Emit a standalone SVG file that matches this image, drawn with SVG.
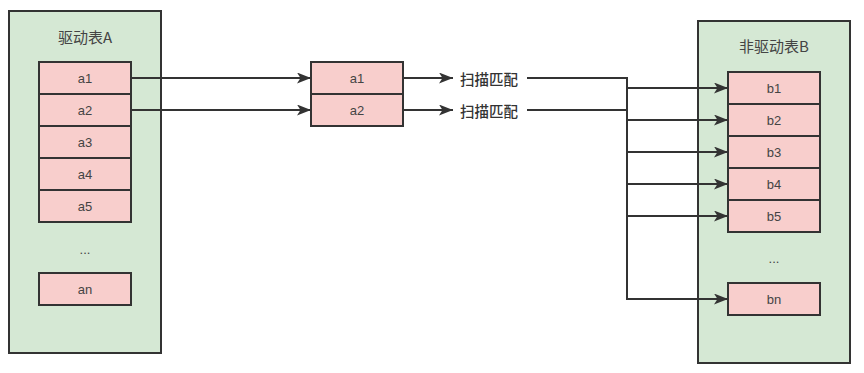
<svg xmlns="http://www.w3.org/2000/svg" width="864" height="373" viewBox="0 0 864 373">
<style>
.cont{fill:#d5e8d4;stroke:#333;stroke-width:2}
.cell{fill:#f8cecc;stroke:#333;stroke-width:2}
.t{font-family:"Liberation Sans","Noto Sans CJK SC",sans-serif;font-size:13px;fill:#444;text-anchor:middle;dominant-baseline:central}
.title{font-family:"Noto Sans CJK SC","Liberation Sans",sans-serif;font-size:15px;fill:#444;text-anchor:middle;dominant-baseline:central}
.lbl{font-family:"Noto Sans CJK SC",sans-serif;font-size:14.5px;fill:#333;font-weight:500;dominant-baseline:central}
.c{fill:none;stroke:#333;stroke-width:2}
</style>
<defs>
<marker id="ah" viewBox="0 0 14 11" refX="14" refY="5.5" markerWidth="14" markerHeight="11" markerUnits="userSpaceOnUse" orient="auto">
<path d="M0,0 L14,5.5 L0,11 L3.5,5.5 Z" fill="#333"/>
</marker>
</defs>
<g id="tableA">
<rect class="cont" x="9" y="11" width="152" height="342"/>
<text class="title" x="85" y="36">驱动表A</text>
</g>
<g id="a1"><rect class="cell" x="39" y="62" width="92" height="32"/><text class="t" x="85" y="78">a1</text></g>
<g id="a2"><rect class="cell" x="39" y="94" width="92" height="32"/><text class="t" x="85" y="110">a2</text></g>
<g id="a3"><rect class="cell" x="39" y="126" width="92" height="32"/><text class="t" x="85" y="142">a3</text></g>
<g id="a4"><rect class="cell" x="39" y="158" width="92" height="32"/><text class="t" x="85" y="174">a4</text></g>
<g id="a5"><rect class="cell" x="39" y="190" width="92" height="32"/><text class="t" x="85" y="206">a5</text></g>
<g id="a-ellipsis"><text class="t" x="85" y="249">...</text></g>
<g id="an"><rect class="cell" x="39" y="273" width="92" height="32"/><text class="t" x="85" y="289">an</text></g>

<g id="m1"><rect class="cell" x="311" y="62" width="92" height="32"/><text class="t" x="357" y="78">a1</text></g>
<g id="m2"><rect class="cell" x="311" y="94" width="92" height="32"/><text class="t" x="357" y="110">a2</text></g>

<g id="scan1"><text class="lbl" x="460" y="78">扫描匹配</text></g>
<g id="scan2"><text class="lbl" x="460" y="110">扫描匹配</text></g>

<g id="tableB">
<rect class="cont" x="698" y="21" width="152" height="342"/>
<text class="title" x="774" y="45">非驱动表B</text>
</g>
<g id="b1"><rect class="cell" x="728" y="72" width="92" height="32"/><text class="t" x="774" y="88">b1</text></g>
<g id="b2"><rect class="cell" x="728" y="104" width="92" height="32"/><text class="t" x="774" y="120">b2</text></g>
<g id="b3"><rect class="cell" x="728" y="136" width="92" height="32"/><text class="t" x="774" y="152">b3</text></g>
<g id="b4"><rect class="cell" x="728" y="168" width="92" height="32"/><text class="t" x="774" y="184">b4</text></g>
<g id="b5"><rect class="cell" x="728" y="200" width="92" height="32"/><text class="t" x="774" y="216">b5</text></g>
<g id="b-ellipsis"><text class="t" x="774" y="258">...</text></g>
<g id="bn"><rect class="cell" x="728" y="283" width="92" height="32"/><text class="t" x="774" y="299">bn</text></g>

<g id="connectors">
<path class="c" d="M131,78 H311" marker-end="url(#ah)"/>
<path class="c" d="M131,110 H311" marker-end="url(#ah)"/>
<path class="c" d="M403,78 H453" marker-end="url(#ah)"/>
<path class="c" d="M403,110 H453" marker-end="url(#ah)"/>
<path class="c" d="M527,78 H627 V299"/>
<path class="c" d="M527,110 H627"/>
<path class="c" d="M627,88 H728" marker-end="url(#ah)"/>
<path class="c" d="M627,120 H728" marker-end="url(#ah)"/>
<path class="c" d="M627,152 H728" marker-end="url(#ah)"/>
<path class="c" d="M627,184 H728" marker-end="url(#ah)"/>
<path class="c" d="M627,216 H728" marker-end="url(#ah)"/>
<path class="c" d="M626,299 H728" marker-end="url(#ah)"/>
</g>
</svg>
